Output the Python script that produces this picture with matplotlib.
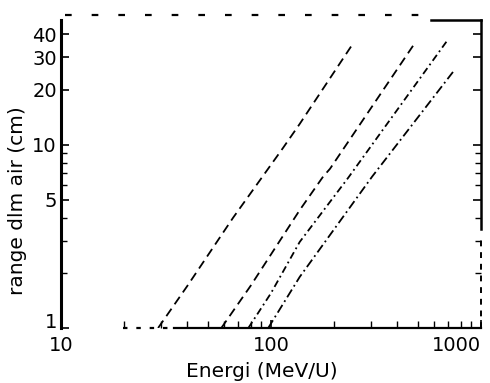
import numpy as np
import matplotlib.pyplot as plt
import matplotlib

matplotlib.rcParams['font.family'] = ['DejaVu Sans']

# energi (MeV/U) vs range dlm air (cm)
e1 = [29, 40, 66, 114, 137, 243]
r1 = [1.0, 1.7, 4.0, 9.6, 13.0, 35.0]
e2 = [58, 80, 137, 177, 191, 485]
r2 = [1.0, 1.7, 4.4, 6.7, 7.4, 36.0]
e3 = [78, 100, 137, 233, 690]
r3 = [1.0, 1.55, 2.95, 6.6, 37.0]
e4 = [97, 137, 303, 736]
r4 = [1.0, 1.9, 6.7, 25.0]

yticks = [1, 5, 10, 20, 30, 40]
xticks = [10, 100, 1000]

fig = plt.figure(figsize=(4.9, 3.83), dpi=100)
ax = fig.add_axes([0.1245, 0.1436, 0.8571, 0.8042])

ax.plot(e1, r1, color='black', lw=1.3, ls=(0, (5, 3)))
ax.plot(e2, r2, color='black', lw=1.3, ls=(0, (5, 3)))
ax.plot(e3, r3, color='black', lw=1.3, ls=(0, (4, 2, 1, 2)))
ax.plot(e4, r4, color='black', lw=1.3, ls=(0, (5, 2, 1, 2)))

ax.set_xscale('log')
ax.set_yscale('log')
ax.set_xlim(10, 1000)
ax.set_ylim(1, 48)

ax.set_yticks(yticks)
ax.set_yticklabels([str(v) for v in yticks])
ax.set_yticks([2, 3, 4, 6, 7, 8, 9], minor=True)
ax.yaxis.set_minor_formatter(matplotlib.ticker.NullFormatter())
ax.get_yticklabels()[0].set_verticalalignment('baseline')
ax.set_xticks(xticks)
ax.set_xticklabels([str(v) for v in xticks])
ax.get_xticklabels()[-1].set_horizontalalignment('right')

ax.tick_params(axis='both', which='both', direction='in', colors='black',
               labelsize=14)
ax.tick_params(axis='y', which='major', length=6, width=1.2, right=True, pad=3)
ax.tick_params(axis='y', which='minor', length=4, width=1.0, right=True)
ax.tick_params(axis='x', which='major', length=6, width=1.2, pad=6)
ax.tick_params(axis='x', which='minor', length=5, width=1.0)

# scanned frame: left spine heavy, top and parts of bottom/right broken
ax.spines['left'].set_linewidth(2.2)
ax.spines['right'].set_visible(False)
ax.spines['top'].set_visible(False)
ax.spines['bottom'].set_visible(False)
tr = ax.transAxes
ax.plot([0.27, 1.0], [0, 0], transform=tr, color='black', lw=1.6, clip_on=False)
ax.plot([0.148, 0.26], [0, 0], transform=tr, color='black', lw=1.6,
        ls=(0, (2, 4)), clip_on=False)
ax.plot([0.88, 1.0], [1, 1], transform=tr, color='black', lw=1.8, clip_on=False)
ax.plot([0.01, 0.87], [1.015, 1.015], transform=tr, color='black', lw=1.6,
        ls=(0, (3, 9)), clip_on=False)
ax.plot([1, 1], [0.32, 1.0], transform=tr, color='black', lw=1.8, clip_on=False)
ax.plot([1, 1], [0.0, 0.3], transform=tr, color='black', lw=1.4,
        ls=(0, (3, 3)), clip_on=False)

ax.set_ylabel('range dlm air (cm)', fontsize=14.5)
ax.yaxis.set_label_coords(-0.08, 0.415)
ax.set_xlabel('Energi (MeV/U)', fontsize=14.5)
ax.xaxis.set_label_coords(0.479, -0.11)

fig.savefig('out.png', dpi=100, facecolor='white')
